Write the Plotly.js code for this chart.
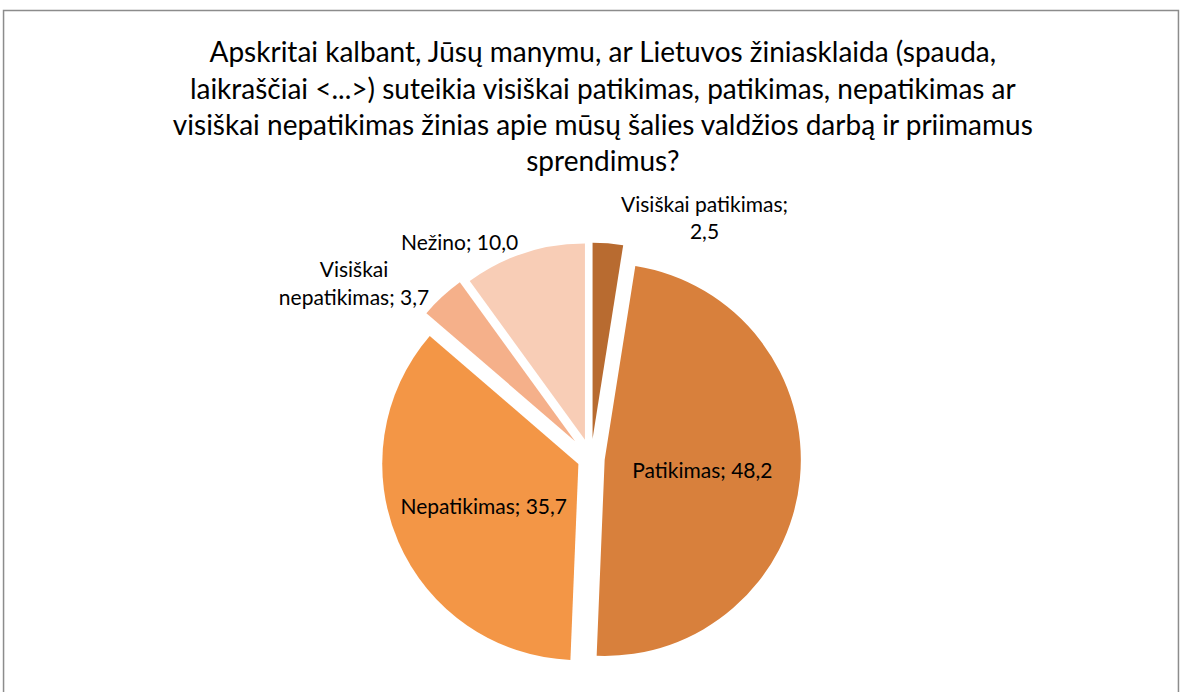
<!DOCTYPE html>
<html>
<head>
<meta charset="utf-8">
<script src="https://cdn.plot.ly/plotly-3.0.1.min.js"></script>
<style>html,body{margin:0;padding:0;background:#fff;}#chart{width:1182px;height:692px;}</style>
</head>
<body>
<div id="chart"></div>
<script>
const categories = ["Visiškai patikimas", "Patikimas", "Nepatikimas", "Visiškai nepatikimas", "Nežino"];
const values = [2.5, 48.2, 35.7, 3.7, 10.0];
const displayLabels = ["Visiškai patikimas;<br>2,5", "Patikimas; 48,2", "Nepatikimas; 35,7", "Visiškai<br>nepatikimas; 3,7", "Nežino; 10,0"];
const colors = ["#B86B30", "#D8803C", "#F39646", "#F5B08A", "#F8CDB6"];
const titleText = "Apskritai kalbant, Jūsų manymu, ar Lietuvos žiniasklaida (spauda,<br>laikraščiai <...>) suteikia visiškai patikimas, patikimas, nepatikimas ar<br>visiškai nepatikimas žinias apie mūsų šalies valdžios darbą ir priimamus<br>sprendimus?";

const trace = {
  type: "pie",
  labels: categories,
  values: values,
  text: displayLabels,
  textinfo: "text",
  texttemplate: "%{text}",
  textposition: ["outside", "inside", "inside", "outside", "outside"],
  insidetextorientation: "horizontal",
  sort: false,
  direction: "clockwise",
  rotation: 0,
  pull: [0.1, 0.07, 0.07, 0.12, 0.1],
  marker: { colors: colors, line: { color: "#ffffff", width: 0 } },
  textfont: { family: "Lato, 'Open Sans', sans-serif", size: 21, color: "#000" },
  outsidetextfont: { family: "Lato, 'Open Sans', sans-serif", size: 21, color: "#000" },
  hoverinfo: "label+value",
  domain: { x: [0.1, 0.9], y: [0.02, 0.655] },
  showlegend: false
};

const layout = {
  width: 1182,
  height: 692,
  margin: { l: 0, r: 0, t: 0, b: 0 },
  paper_bgcolor: "#ffffff",
  separators: ", ",
  title: {
    text: titleText,
    font: { family: "Lato, 'Open Sans', sans-serif", size: 28, color: "#000" },
    x: 0.51,
    xanchor: "center",
    y: 0.91,
    yanchor: "top"
  },
  showlegend: false,
  shapes: [{
    type: "rect", xref: "paper", yref: "paper",
    x0: 0.003, x1: 0.997, y0: -0.02, y1: 0.985,
    line: { color: "#8c8c8c", width: 1.5 }, fillcolor: "rgba(0,0,0,0)"
  }]
};

Plotly.newPlot("chart", [trace], layout, { displayModeBar: false, staticPlot: true });
</script>
</body>
</html>
